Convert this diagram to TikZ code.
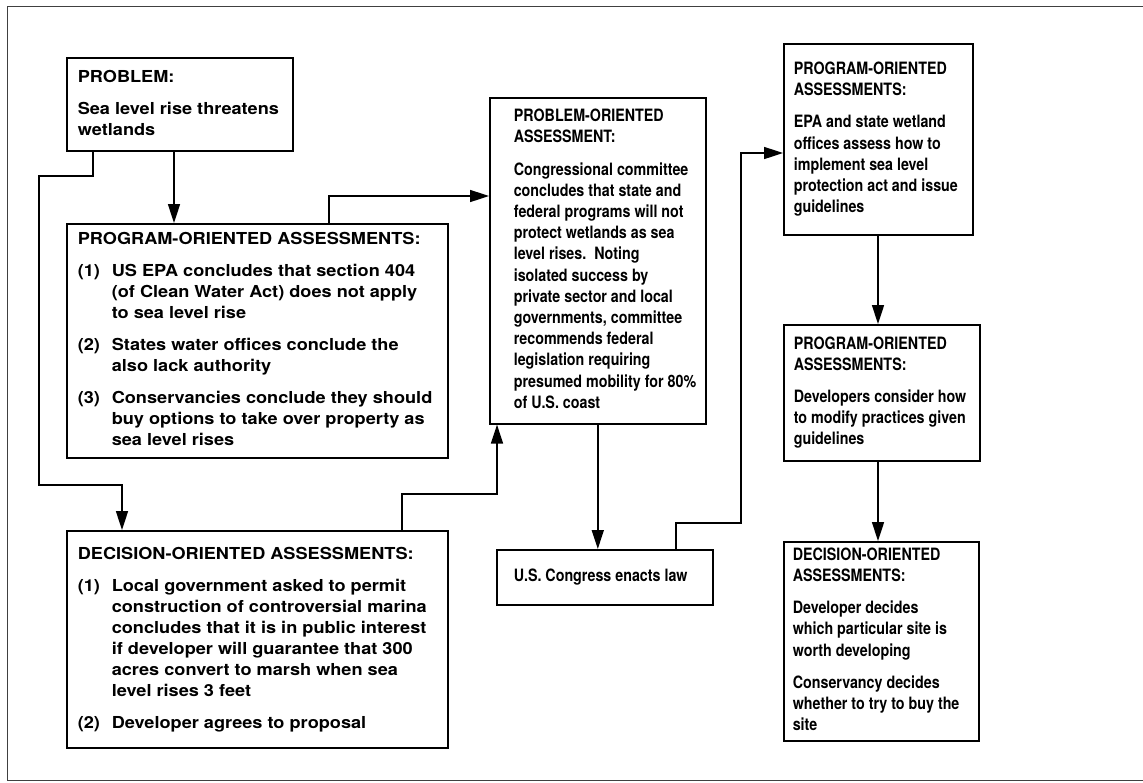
\documentclass[tikz,border=0pt]{standalone}
\usepackage{fontspec}
\usepackage{array}
\setmainfont{TeX Gyre Heros}
\newfontfamily\wideft[FakeStretch=1.1]{TeX Gyre Heros}
\newfontfamily\narrowft[FakeStretch=0.84]{TeX Gyre Heros}
\usetikzlibrary{arrows.meta}
\newcommand{\hd}[1]{\multicolumn{2}{@{\hspace{9pt}}l@{}}{#1}}
\begin{document}
\begin{tikzpicture}[x=1pt,y=1pt,
  stage/.style={draw, line width=1.6pt, anchor=north west, inner xsep=2pt, inner ysep=0pt},
  wide/.style={font=\wideft\bfseries\fontsize{16.5}{21}\selectfont},
  narrow/.style={font=\narrowft\bfseries\fontsize{17}{21.2}\selectfont},
  flow/.style={line width=1.6pt, -{Triangle[length=19pt,width=12pt]}}]
\useasboundingbox (0,0) rectangle (1143,-782);
\draw [line width=0.8pt, black!75] (1143,-6) -- (7,-6) -- (7,-780) -- (1143,-780);
% left column
\node [stage, wide, minimum width=226pt, minimum height=93pt] (prob) at (66,-57)
  {\begin{tabular}{@{\hspace{9pt}}p{213pt}@{}}
   PROBLEM:\\[11pt]
   Sea level rise threatens\\
   wetlands
   \end{tabular}};
\node [stage, wide, minimum width=381pt, minimum height=234pt] (prog) at (66,-223)
  {\begin{tabular}{@{\hspace{9pt}}p{34pt}@{}p{334pt}@{}}
   \hd{PROGRAM-ORIENTED ASSESSMENTS:}\\[11pt]
   (1) & US EPA concludes that section 404\\
       & (of Clean Water Act) does not apply\\
       & to sea level rise\\[11pt]
   (2) & States water offices conclude the\\
       & also lack authority\\[11pt]
   (3) & Conservancies conclude they should\\
       & buy options to take over property as\\
       & sea level rises
   \end{tabular}};
\node [stage, wide, minimum width=381pt, minimum height=217pt] (dec) at (66,-530)
  {\begin{tabular}{@{\hspace{9pt}}p{34pt}@{}p{334pt}@{}}
   \hd{DECISION-ORIENTED ASSESSMENTS:}\\[11pt]
   (1) & Local government asked to permit\\
       & construction of controversial marina\\
       & concludes that it is in public interest\\
       & if developer will guarantee that 300\\
       & acres convert to marsh when sea\\
       & level rises 3 feet\\[11pt]
   (2) & Developer agrees to proposal
   \end{tabular}};
% middle column
\node [stage, narrow, minimum width=216pt, minimum height=326pt] (poa) at (489,-97)
  {\begin{tabular}{@{\hspace{22pt}}p{190pt}@{}}
   PROBLEM-ORIENTED\\
   ASSESSMENT:\\[11pt]
   Congressional committee\\
   concludes that state and\\
   federal programs will not\\
   protect wetlands as sea\\
   level rises.\ \ Noting\\
   isolated success by\\
   private sector and local\\
   governments, committee\\
   recommends federal\\
   legislation requiring\\
   presumed mobility for 80\%\\
   of U.S. coast
   \end{tabular}};
\node [stage, narrow, minimum width=216pt, minimum height=55pt] (law) at (496,-549)
  {\begin{tabular}{@{\hspace{15pt}}p{197pt}@{}}
   U.S. Congress enacts law
   \end{tabular}};
% right column
\node [stage, narrow, minimum width=189pt, minimum height=191pt] (epa) at (783,-43)
  {\begin{tabular}{@{\hspace{8pt}}p{177pt}@{}}
   PROGRAM-ORIENTED\\
   ASSESSMENTS:\\[11pt]
   EPA and state wetland\\
   offices assess how to\\
   implement sea level\\
   protection act and issue\\
   guidelines
   \end{tabular}};
\node [stage, narrow, minimum width=196pt, minimum height=136pt] (dev) at (783,-324)
  {\begin{tabular}{@{\hspace{8pt}}p{184pt}@{}}
   PROGRAM-ORIENTED\\
   ASSESSMENTS:\\[11pt]
   Developers consider how\\
   to modify practices given\\
   guidelines
   \end{tabular}};
\node [stage, narrow, minimum width=195pt, minimum height=199pt] (site) at (783,-541)
  {\begin{tabular}{@{\hspace{7pt}}p{184pt}@{}}
   DECISION-ORIENTED\\
   ASSESSMENTS:\\[11pt]
   Developer decides\\
   which particular site is\\
   worth developing\\[11pt]
   Conservancy decides\\
   whether to try to buy the\\
   site
   \end{tabular}};
% connectors
\coordinate (j1) at (93,-176);
\coordinate (j2) at (39,-485);
\coordinate (j3) at (122,-485);
\coordinate (j4) at (174,0);
\coordinate (j5) at (329,-196);
\coordinate (j6) at (402,-494);
\coordinate (j7) at (497,-494);
\coordinate (j8) at (676,-523);
\coordinate (j9) at (741,-153);
\coordinate (j10) at (878,0);
\draw [flow] (prob.south -| j1) -- (j1) -| (j2) -- (j3) -- (dec.north -| j3);
\draw [flow] (prob.south -| j4) -- (prog.north -| j4);
\draw [flow] (prog.north -| j5) |- (poa.west |- j5);
\draw [flow] (dec.north -| j6) -- (j6) -- (j7) -- (poa.south -| j7);
\draw [flow] (poa.south) -- (law.north -| poa.south);
\draw [flow] (law.north -| j8) -- (j8) -| (j9) -- (epa.west |- j9);
\draw [flow] (epa.south -| j10) -- (dev.north -| j10);
\draw [flow] (dev.south -| j10) -- (site.north -| j10);
\end{tikzpicture}
\end{document}
